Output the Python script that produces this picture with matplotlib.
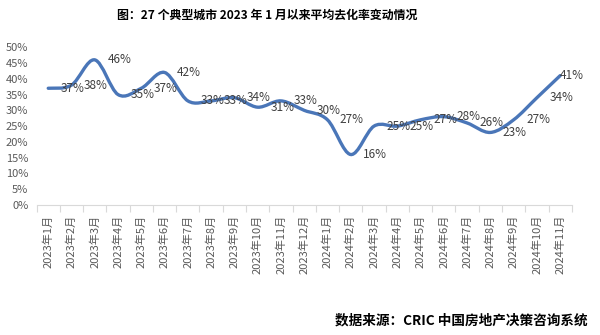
import numpy as np
import matplotlib
matplotlib.use("Agg")
from matplotlib import pyplot as plt
from matplotlib.path import Path
from matplotlib.patches import PathPatch
from matplotlib.ticker import MultipleLocator, FuncFormatter

plt.rcParams['font.family'] = ['Noto Sans CJK SC', 'DejaVu Sans']

months = ['2023年1月', '2023年2月', '2023年3月', '2023年4月', '2023年5月', '2023年6月',
          '2023年7月', '2023年8月', '2023年9月', '2023年10月', '2023年11月', '2023年12月',
          '2024年1月', '2024年2月', '2024年3月', '2024年4月', '2024年5月', '2024年6月',
          '2024年7月', '2024年8月', '2024年9月', '2024年10月', '2024年11月']
rate = [37, 38, 46, 35, 37, 42, 33, 33, 34, 31, 33, 30,
        27, 16, 25, 25, 27, 28, 26, 23, 27, 34, 41]

title = '图：27 个典型城市 2023 年 1 月以来平均去化率变动情况'
source = '数据来源：CRIC 中国房地产决策咨询系统'

line_color = '#4a76b8'
gray = '#595959'
axis_gray = '#d9d9d9'


def smooth_path(xs, ys):
    # excel-like smoothed line: catmull-rom segments as cubic beziers
    pts = np.column_stack([xs, ys]).astype(float)
    n = len(pts)
    verts = [pts[0]]
    codes = [Path.MOVETO]
    for i in range(n - 1):
        p0 = pts[i - 1] if i > 0 else pts[i]
        p1 = pts[i]
        p2 = pts[i + 1]
        p3 = pts[i + 2] if i + 2 < n else pts[i + 1]
        c1 = p1 + (p2 - p0) / 6.0
        c2 = p2 - (p3 - p1) / 6.0
        verts += [c1, c2, p2]
        codes += [Path.CURVE4] * 3
    return Path(verts, codes)


fig = plt.figure(figsize=(6.0, 3.35), dpi=100)
ax = fig.add_axes([0.061, 0.388, 0.892, 0.471])

x = np.arange(len(months))
ax.add_patch(PathPatch(smooth_path(x, rate), facecolor='none',
                       edgecolor=line_color, lw=2.4, capstyle='round', zorder=3))

for xi, v in zip(x, rate):
    # last label gets pushed back inside the plot area, as excel does
    dx = 0 if xi == x[-1] else 9
    ax.annotate('%d%%' % v, (xi, v), xytext=(dx, 0), textcoords='offset points',
                ha='left', va='center', fontsize=8.5, color='#404040', zorder=4)

ax.set_xlim(-0.5, len(months) - 0.5)
ax.set_ylim(0, 50)
ax.yaxis.set_major_locator(MultipleLocator(5))
ax.yaxis.set_major_formatter(FuncFormatter(lambda v, p: '%d%%' % v))

ax.set_xticks(x)
ax.set_xticklabels(months, rotation=90, fontsize=8, color=gray)
ax.set_xticks(np.arange(len(months) + 1) - 0.5, minor=True)
ax.tick_params(axis='x', which='major', length=0, pad=7)
ax.tick_params(axis='x', which='minor', length=5, color=axis_gray, width=0.8)
ax.tick_params(axis='y', length=0, pad=6, labelsize=8, labelcolor=gray)

for s in ['top', 'right', 'left']:
    ax.spines[s].set_visible(False)
ax.spines['bottom'].set_color(axis_gray)
ax.spines['bottom'].set_linewidth(0.8)

fig.text(0.445, 0.955, title, ha='center', va='center', fontsize=8.6,
         fontweight='bold', color='#000000')
fig.text(0.98, 0.042, source, ha='right', va='center', fontsize=9.8,
         fontweight='bold', color='#000000')

fig.savefig('out.png', dpi=100, facecolor='white')
